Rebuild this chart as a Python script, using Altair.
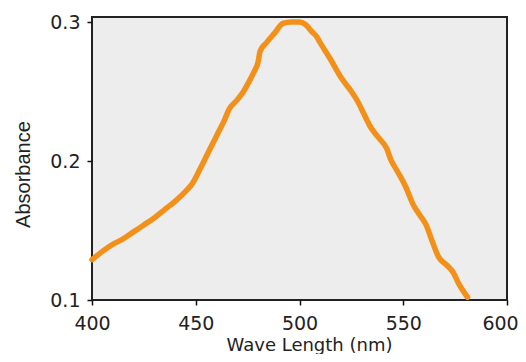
import altair as alt
import pandas as pd

wavelength = [400, 405, 410, 415, 420, 425, 430, 435, 440, 445, 448, 452, 455, 458,
              461, 464, 466, 470, 473, 476, 478, 480, 481, 484, 488, 492, 496, 500,
              503, 506, 508, 510, 515, 520, 525, 528, 531, 534, 538, 542, 544, 547,
              551, 555, 558, 561, 564, 567, 571, 574, 577, 580, 581]
absorbance = [0.129, 0.135, 0.140, 0.144, 0.149, 0.154, 0.159, 0.165, 0.171, 0.178,
              0.183, 0.194, 0.203, 0.212, 0.221, 0.230, 0.237, 0.244, 0.250, 0.258,
              0.264, 0.271, 0.279, 0.285, 0.292, 0.299, 0.300, 0.300, 0.298, 0.293,
              0.290, 0.285, 0.273, 0.260, 0.250, 0.243, 0.234, 0.225, 0.217, 0.209,
              0.201, 0.193, 0.182, 0.168, 0.161, 0.154, 0.142, 0.131, 0.125, 0.120,
              0.111, 0.104, 0.102]
x_ticks = [400, 450, 500, 550, 600]
y_ticks = [0.1, 0.2, 0.3]

df = pd.DataFrame({"wl": wavelength, "abs": absorbance})

chart = alt.Chart(df).mark_line(
    color="#F39019", strokeWidth=5.5, strokeJoin="round", strokeCap="round",
    interpolate="monotone"
).encode(
    x=alt.X("wl:Q",
            scale=alt.Scale(domain=[400, 600], nice=False, zero=False),
            axis=alt.Axis(values=x_ticks, format="d", title="Wave Length (nm)",
                          grid=False, domain=False, tickSize=5, tickColor="#111",
                          tickWidth=1.5, labelPadding=24, labelBaseline="alphabetic",
                          labelFont="DejaVu Sans", labelFontSize=19, labelColor="#222",
                          labelFlush=False, labelOverlap=False,
                          labelOffset={"condition": {"test": "datum.value == 600", "value": -7},
                                       "value": 0},
                          titleFont="DejaVu Sans", titleFontSize=18, titleColor="#222",
                          titleFontWeight="normal", titleX=217, titleY=50,
                          titleBaseline="alphabetic", titleAlign="center")),
    y=alt.Y("abs:Q",
            scale=alt.Scale(domain=[0.1, 0.3036], nice=False, zero=False),
            axis=alt.Axis(values=y_ticks, format=".1f", title="Absorbance",
                          grid=False, domain=False, tickSize=5, tickColor="#111",
                          tickWidth=1.5, labelPadding=7, labelBaseline="middle",
                          labelFont="DejaVu Sans", labelFontSize=19, labelColor="#222",
                          labelFlush=False, labelOverlap=False,
                          titleFont="Liberation Sans", titleFontSize=20, titleColor="#222",
                          titleFontWeight="normal", titleX=-69, titleY=157,
                          titleAngle=270, titleBaseline="middle", titleAlign="center"))
).properties(
    width=415, height=283,
    autosize=alt.AutoSizeParams(type="none"),
    padding={"left": 84, "top": 9, "right": 11, "bottom": 54},
    background="white"
).configure_view(
    fill="#EDEDED", stroke="#222", strokeWidth=2
)

chart.save("out.html", embed_options={"renderer": "svg", "actions": False})
